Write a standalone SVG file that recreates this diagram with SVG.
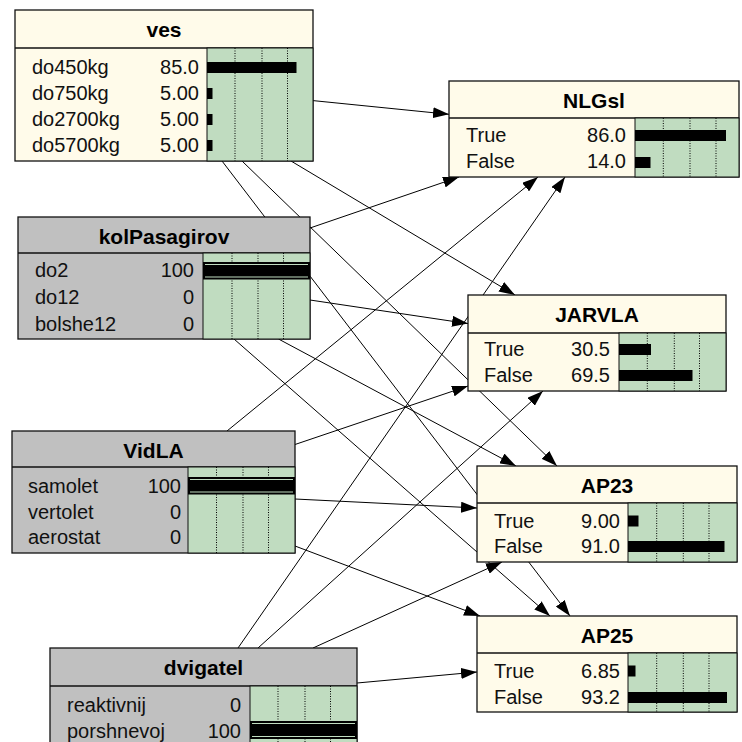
<svg xmlns="http://www.w3.org/2000/svg" width="742" height="742" viewBox="0 0 742 742">
<style>
.t{font-family:"Liberation Sans",Arial,sans-serif;font-size:21px;font-weight:bold;text-anchor:middle;fill:#000}
.l{font-family:"Liberation Sans",Arial,sans-serif;font-size:20px;fill:#111}
.v{font-family:"Liberation Sans",Arial,sans-serif;font-size:20px;fill:#111;text-anchor:end}
.box{stroke:#111;stroke-width:1.3}
.cream{fill:#FFFBEA}
.grey{fill:#C0C0C0}
.green{fill:#C0DCC0;stroke:#111;stroke-width:1}
.sep{stroke:#111;stroke-width:1.3}
.dot{stroke:#000;stroke-width:1;stroke-dasharray:1 1.5}
.bar{fill:#000}
.gl{stroke:#C0DCC0;stroke-width:1.2}
.arc{stroke:#000;stroke-width:1;fill:none;marker-end:url(#ah)}
</style>
<defs>
<marker id="ah" markerUnits="userSpaceOnUse" markerWidth="16" markerHeight="11" refX="16" refY="5.5" orient="auto">
<path d="M0,0 L16,5.5 L0,11 z" fill="#000"/>
</marker>
</defs>
<rect width="742" height="742" fill="#fff"/>
<g id="connectors">
<line class="arc" x1="313" y1="100.6" x2="449" y2="114.3"/>
<line class="arc" x1="291" y1="161" x2="515" y2="295"/>
<line class="arc" x1="242" y1="161" x2="557" y2="466"/>
<line class="arc" x1="222" y1="161" x2="570" y2="616"/>
<line class="arc" x1="310" y1="228" x2="459" y2="177"/>
<line class="arc" x1="310" y1="300" x2="468" y2="323.6"/>
<line class="arc" x1="278.5" y1="339" x2="516" y2="466"/>
<line class="arc" x1="234" y1="339" x2="550" y2="616"/>
<line class="arc" x1="227" y1="431" x2="538" y2="177"/>
<line class="arc" x1="295" y1="444.5" x2="468" y2="386"/>
<line class="arc" x1="295" y1="499" x2="477" y2="508"/>
<line class="arc" x1="295" y1="546" x2="480" y2="616"/>
<line class="arc" x1="238" y1="648" x2="565" y2="177"/>
<line class="arc" x1="258" y1="648" x2="543" y2="391"/>
<line class="arc" x1="313" y1="648" x2="502" y2="562"/>
<line class="arc" x1="357" y1="683" x2="477" y2="672"/>
</g>
<g id="ves">
<rect class="box cream" x="15" y="10" width="298" height="151"/>
<line class="sep" x1="15" y1="48" x2="313" y2="48"/>
<rect class="green" x="207" y="48" width="106" height="113"/>
<line class="dot" x1="235" y1="48" x2="235" y2="161"/>
<line class="dot" x1="262" y1="48" x2="262" y2="161"/>
<line class="dot" x1="287.5" y1="48" x2="287.5" y2="161"/>
<rect class="bar" x="207" y="62" width="89.5" height="11"/>
<rect class="bar" x="207" y="88" width="5.5" height="11"/>
<rect class="bar" x="207" y="114" width="5.5" height="11"/>
<rect class="bar" x="207" y="140" width="5.5" height="11"/>
<text class="t" x="164" y="37">ves</text>
<text class="l" x="32" y="74">do450kg</text><text class="v" x="199" y="74">85.0</text>
<text class="l" x="32" y="100">do750kg</text><text class="v" x="199" y="100">5.00</text>
<text class="l" x="32" y="126">do2700kg</text><text class="v" x="199" y="126">5.00</text>
<text class="l" x="32" y="152">do5700kg</text><text class="v" x="199" y="152">5.00</text>
</g>
<g id="kolPasagirov">
<rect class="box grey" x="18" y="217" width="292" height="122"/>
<line class="sep" x1="18" y1="253" x2="310" y2="253"/>
<rect class="green" x="203" y="253" width="107" height="86"/>
<line class="dot" x1="232" y1="253" x2="232" y2="339"/>
<line class="dot" x1="258" y1="253" x2="258" y2="339"/>
<line class="dot" x1="283.5" y1="253" x2="283.5" y2="339"/>
<rect class="bar" x="203" y="262" width="107" height="17.5"/>
<line class="gl" x1="205" y1="264.5" x2="308" y2="264.5"/>
<line class="gl" x1="205" y1="277" x2="308" y2="277"/>
<text class="t" x="164" y="244">kolPasagirov</text>
<text class="l" x="35" y="277">do2</text><text class="v" x="194" y="277">100</text>
<text class="l" x="35" y="304">do12</text><text class="v" x="194" y="304">0</text>
<text class="l" x="35" y="331">bolshe12</text><text class="v" x="194" y="331">0</text>
</g>
<g id="VidLA">
<rect class="box grey" x="12" y="431" width="283" height="122"/>
<line class="sep" x1="12" y1="467" x2="295" y2="467"/>
<rect class="green" x="188" y="467" width="107" height="86"/>
<line class="dot" x1="216.5" y1="467" x2="216.5" y2="553"/>
<line class="dot" x1="243" y1="467" x2="243" y2="553"/>
<line class="dot" x1="268.5" y1="467" x2="268.5" y2="553"/>
<rect class="bar" x="188" y="477" width="107" height="17.5"/>
<line class="gl" x1="190" y1="479.5" x2="293" y2="479.5"/>
<line class="gl" x1="190" y1="492" x2="293" y2="492"/>
<text class="t" x="153.5" y="458">VidLA</text>
<text class="l" x="28" y="493">samolet</text><text class="v" x="181" y="493">100</text>
<text class="l" x="28" y="518.5">vertolet</text><text class="v" x="181" y="518.5">0</text>
<text class="l" x="28" y="544">aerostat</text><text class="v" x="181" y="544">0</text>
</g>
<g id="dvigatel">
<rect class="box grey" x="50" y="648" width="307" height="122"/>
<line class="sep" x1="50" y1="686" x2="357" y2="686"/>
<rect class="green" x="250" y="686" width="107" height="86"/>
<line class="dot" x1="278" y1="686" x2="278" y2="742"/>
<line class="dot" x1="305" y1="686" x2="305" y2="742"/>
<line class="dot" x1="330.5" y1="686" x2="330.5" y2="742"/>
<rect class="bar" x="250" y="721" width="107" height="18"/>
<line class="gl" x1="252" y1="723.5" x2="355" y2="723.5"/>
<line class="gl" x1="252" y1="736.5" x2="355" y2="736.5"/>
<text class="t" x="203.5" y="675">dvigatel</text>
<text class="l" x="67" y="711.5">reaktivnij</text><text class="v" x="241" y="711.5">0</text>
<text class="l" x="67" y="737.5">porshnevoj</text><text class="v" x="241" y="737.5">100</text>
</g>
<g id="NLGsl">
<rect class="box cream" x="449" y="81" width="290" height="96"/>
<line class="sep" x1="449" y1="118" x2="739" y2="118"/>
<rect class="green" x="635" y="118" width="104" height="59"/>
<line class="dot" x1="663.3" y1="118" x2="663.3" y2="177"/>
<line class="dot" x1="690" y1="118" x2="690" y2="177"/>
<line class="dot" x1="716" y1="118" x2="716" y2="177"/>
<rect class="bar" x="635" y="130" width="91" height="11"/>
<rect class="bar" x="635" y="157" width="15.5" height="11"/>
<text class="t" x="594" y="108">NLGsl</text>
<text class="l" x="466" y="142">True</text><text class="v" x="626" y="142">86.0</text>
<text class="l" x="466" y="168">False</text><text class="v" x="626" y="168">14.0</text>
</g>
<g id="JARVLA">
<rect class="box cream" x="468" y="295" width="258" height="96"/>
<line class="sep" x1="468" y1="333" x2="726" y2="333"/>
<rect class="green" x="619" y="333" width="107" height="58"/>
<line class="dot" x1="647.3" y1="333" x2="647.3" y2="391"/>
<line class="dot" x1="674.3" y1="333" x2="674.3" y2="391"/>
<line class="dot" x1="699.5" y1="333" x2="699.5" y2="391"/>
<rect class="bar" x="619" y="344" width="32" height="11"/>
<rect class="bar" x="619" y="370" width="73.5" height="11"/>
<text class="t" x="597" y="322">JARVLA</text>
<text class="l" x="484" y="356">True</text><text class="v" x="610" y="356">30.5</text>
<text class="l" x="484" y="382">False</text><text class="v" x="610" y="382">69.5</text>
</g>
<g id="AP23">
<rect class="box cream" x="477" y="466" width="260" height="96"/>
<line class="sep" x1="477" y1="503" x2="737" y2="503"/>
<rect class="green" x="628" y="503" width="109" height="59"/>
<line class="dot" x1="656.7" y1="503" x2="656.7" y2="562"/>
<line class="dot" x1="683.3" y1="503" x2="683.3" y2="562"/>
<line class="dot" x1="709" y1="503" x2="709" y2="562"/>
<rect class="bar" x="628" y="515.5" width="10.5" height="11"/>
<rect class="bar" x="628" y="541" width="96.5" height="11"/>
<text class="t" x="607" y="493">AP23</text>
<text class="l" x="494" y="527.5">True</text><text class="v" x="620" y="527.5">9.00</text>
<text class="l" x="494" y="553">False</text><text class="v" x="620" y="553">91.0</text>
</g>
<g id="AP25">
<rect class="box cream" x="477" y="616" width="260" height="96"/>
<line class="sep" x1="477" y1="653" x2="737" y2="653"/>
<rect class="green" x="628" y="653" width="109" height="59"/>
<line class="dot" x1="656.7" y1="653" x2="656.7" y2="712"/>
<line class="dot" x1="683.3" y1="653" x2="683.3" y2="712"/>
<line class="dot" x1="709" y1="653" x2="709" y2="712"/>
<rect class="bar" x="628" y="665.5" width="7.5" height="11"/>
<rect class="bar" x="628" y="692" width="99" height="11"/>
<text class="t" x="607" y="643">AP25</text>
<text class="l" x="494" y="677.5">True</text><text class="v" x="620" y="677.5">6.85</text>
<text class="l" x="494" y="704">False</text><text class="v" x="620" y="704">93.2</text>
</g>
</svg>
